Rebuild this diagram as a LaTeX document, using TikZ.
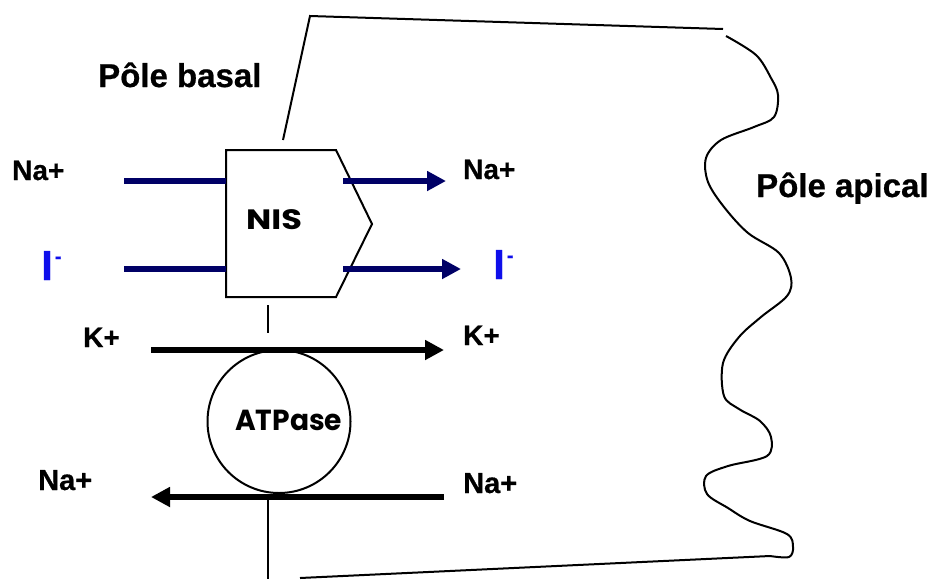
\documentclass[tikz,border=0pt]{standalone}
\usepackage{fontspec}
\setmainfont{Liberation Sans}[BoldFeatures={FakeBold=0.6}]
\newfontfamily\comicfont{Poppins}
\usetikzlibrary{arrows.meta}
\definecolor{navy}{RGB}{0,0,102}
\definecolor{iodide}{RGB}{15,15,235}

\begin{document}
\begin{tikzpicture}[x=1pt,y=-1pt,
  ionlabel/.style={font=\fontsize{28}{28}\selectfont\bfseries, anchor=base west, inner sep=0pt},
  polelabel/.style={font=\fontsize{33}{33}\selectfont\bfseries, anchor=base west, inner sep=0pt},
  iodlabel/.style={font=\fontsize{42}{42}\selectfont\bfseries, text=iodide, anchor=base west, inner sep=0pt},
  protlabel/.style={font=\comicfont\bfseries\fontsize{28}{28}\selectfont, anchor=base west, inner sep=0pt},
  membrane/.style={line width=2pt, black},
  naiflow/.style={line width=6.5pt, navy},
  naiarrow/.style={naiflow, -{Triangle[length=19pt,width=19pt]}},
  pumparrow/.style={line width=6.5pt, black, -{Triangle[length=19pt,width=19pt]}},
]
\useasboundingbox (0,0) rectangle (941,579);

% cell outline: basal edge, top and bottom edges, wavy apical edge
\coordinate (basTop) at (283,140);
\coordinate (cornerTL) at (310,16);
\coordinate (cornerTR) at (723,29);
\coordinate (nisBelow) at (268,305);
\coordinate (atpAbove) at (268,333);
\coordinate (atpBelow) at (268,497);
\coordinate (basBottom) at (268,579);
\coordinate (cornerBL) at (300,578);
\coordinate (cornerBR) at (770,556);
\draw[membrane] (basTop) -- (cornerTL) -- (cornerTR);
\draw[membrane] (nisBelow) -- (atpAbove);
\draw[membrane] (atpBelow) -- (basBottom);
\draw[membrane] (cornerBL) -- (cornerBR);
\draw[membrane, line join=round] plot[smooth, tension=0.55] coordinates {
  (726,36) (756,55) (771,78) (778,95) (774,117) (754,127) (721,140)
  (706,158) (708,182) (724,207) (748,233) (779,253) (791,278) (787,296)
  (761,317) (739,337) (723,363) (724,396) (739,409) (760,421) (771,437)
  (767,456) (728,466) (706,476) (707,494) (728,508) (750,521) (787,534)
  (793,547) (789,557) (770,556)};

% NIS symporter
\draw[membrane, fill=white, line join=miter] (226,150) -- (336,150) -- (372,224) -- (336,297) -- (226,297) -- cycle;
\node[protlabel] (nis) at (246,229.5) {\scalebox{1.2}[1]{NIS}};
\coordinate (nisInNa) at (226,181);
\coordinate (nisInI) at (226,269);
\coordinate (nisOutNa) at (343,181);
\coordinate (nisOutI) at (343,269);

% Na+/K+ ATPase
\node[circle, draw, line width=2pt, minimum size=143pt, inner sep=0pt] (atp) at (279,421.5) {};
\node[protlabel, font=\comicfont\bfseries\fontsize{29}{29}\selectfont] (atptext) at (235,430) {\scalebox{0.97}[1]{ATPase}};

% ion fluxes through NIS
\coordinate (naInStart) at (124,181);
\coordinate (iInStart) at (124,269);
\coordinate (naOutEnd) at (446,181);
\coordinate (iOutEnd) at (461,269);
\draw[naiflow] (naInStart) -- (nisInNa);
\draw[naiflow] (iInStart) -- (nisInI);
\draw[naiarrow] (nisOutNa) -- (naOutEnd);
\draw[naiarrow] (nisOutI) -- (iOutEnd);

% ion fluxes through the pump
\coordinate (kStart) at (151,350);
\coordinate (kEnd) at (444,350);
\coordinate (naPumpStart) at (444,497);
\coordinate (naPumpEnd) at (151,497);
\draw[pumparrow] (kStart) -- (kEnd);
\draw[pumparrow] (naPumpStart) -- (naPumpEnd);

% labels
\node[polelabel] (basal) at (98,87) {Pôle basal};
\node[polelabel] (apical) at (756,197) {Pôle apical};
\node[ionlabel] (naL1) at (12,180) {Na+};
\node[ionlabel] (naR1) at (463,179) {Na+};
\node[iodlabel] (iL) at (41,280) {I\kern2pt\raisebox{17pt}{\fontsize{20}{20}\selectfont\bfseries -}};
\node[iodlabel] (iR) at (493,279) {I\kern2pt\raisebox{17pt}{\fontsize{20}{20}\selectfont\bfseries -}};
\node[ionlabel] (kL) at (83,347) {K+};
\node[ionlabel] (kR) at (463,345) {K+};
\node[ionlabel, font=\fontsize{29}{29}\selectfont\bfseries] (naL2) at (38,490) {Na+};
\node[ionlabel, font=\fontsize{29}{29}\selectfont\bfseries] (naR2) at (463,493) {Na+};
\end{tikzpicture}
\end{document}
